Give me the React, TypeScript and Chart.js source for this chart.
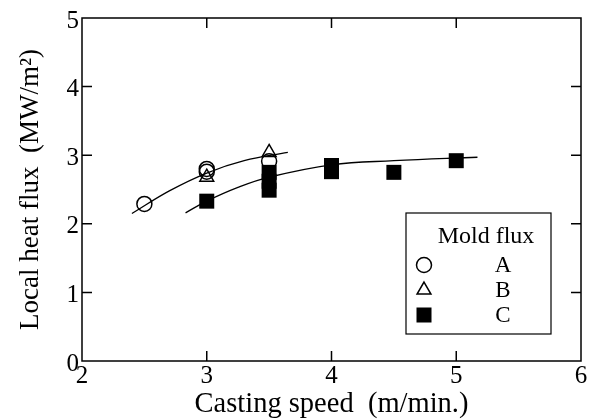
import React, { useEffect, useRef } from "react";
import { Chart, registerables } from "chart.js";
Chart.register(...registerables);

const FONT = "'Liberation Serif', 'Times New Roman', serif";

const xTicks = [2, 3, 4, 5, 6];
const yTicks = [0, 1, 2, 3, 4, 5];

const fluxA_x = [2.5, 3.0, 3.0, 3.5];
const fluxA_y = [2.29, 2.8, 2.76, 2.91];
const fluxB_x = [3.0, 3.5];
const fluxB_y = [2.68, 3.04];
const fluxC_x = [3.0, 3.5, 3.5, 3.5, 4.0, 4.0, 4.5, 5.0];
const fluxC_y = [2.33, 2.49, 2.62, 2.75, 2.76, 2.85, 2.75, 2.92];

const curveAB_x = [2.4, 2.7, 3.0, 3.3, 3.65];
const curveAB_y = [2.15, 2.48, 2.74, 2.92, 3.04];
const curveC_x = [2.83, 3.0, 3.25, 3.5, 4.0, 4.5, 5.17];
const curveC_y = [2.16, 2.33, 2.53, 2.68, 2.86, 2.92, 2.97];

const xTitle = "Casting speed  (m/min.)";
const yTitle = "Local heat flux  (MW/m\u00B2)";
const legendTitle = "Mold flux";
const legendLabels = ["A", "B", "C"];

const pts = (xs: number[], ys: number[]) => xs.map((x, i) => ({ x, y: ys[i] }));

function drawMarker(ctx: CanvasRenderingContext2D, kind: string, x: number, y: number) {
  ctx.save();
  ctx.strokeStyle = "#000";
  ctx.fillStyle = "#000";
  ctx.lineWidth = 1.5;
  ctx.beginPath();
  if (kind === "circle") {
    ctx.arc(x, y, 7.5, 0, Math.PI * 2);
    ctx.stroke();
  } else if (kind === "triangle") {
    const r = 8;
    ctx.moveTo(x, y - r);
    ctx.lineTo(x + r * 0.866, y + r * 0.5);
    ctx.lineTo(x - r * 0.866, y + r * 0.5);
    ctx.closePath();
    ctx.stroke();
  } else {
    ctx.fillRect(x - 7.5, y - 7.5, 15, 15);
  }
  ctx.restore();
}

const framePlugin = {
  id: "frame",
  afterDraw(chart: any) {
    const { ctx, chartArea: a, scales } = chart;
    const sx = scales.x;
    const sy = scales.y;
    ctx.save();
    ctx.strokeStyle = "#000";
    ctx.lineWidth = 1.5;
    ctx.strokeRect(a.left, a.top, a.right - a.left, a.bottom - a.top);
    const tl = 10;
    ctx.beginPath();
    xTicks.slice(1, -1).forEach((v) => {
      const px = sx.getPixelForValue(v);
      ctx.moveTo(px, a.bottom);
      ctx.lineTo(px, a.bottom - tl);
      ctx.moveTo(px, a.top);
      ctx.lineTo(px, a.top + tl);
    });
    yTicks.slice(1, -1).forEach((v) => {
      const py = sy.getPixelForValue(v);
      ctx.moveTo(a.left, py);
      ctx.lineTo(a.left + tl, py);
      ctx.moveTo(a.right, py);
      ctx.lineTo(a.right - tl, py);
    });
    ctx.stroke();

    // legend box
    const bx = a.right - 175;
    const by = a.top + 195;
    const bw = 145;
    const bh = 121;
    ctx.lineWidth = 1.2;
    ctx.fillStyle = "#fff";
    ctx.fillRect(bx, by, bw, bh);
    ctx.strokeRect(bx, by, bw, bh);
    ctx.fillStyle = "#000";
    ctx.textAlign = "center";
    ctx.textBaseline = "middle";
    ctx.font = `24px ${FONT}`;
    ctx.fillText(legendTitle, bx + 80, by + 24);
    const kinds = ["circle", "triangle", "rect"];
    ctx.font = `23px ${FONT}`;
    legendLabels.forEach((lab, i) => {
      const ry = by + 52 + i * 25;
      drawMarker(ctx, kinds[i], bx + 18, ry);
      ctx.fillStyle = "#000";
      ctx.fillText(lab, bx + 97, ry + 1);
    });
    ctx.restore();
  },
};

export default function App() {
  const ref = useRef<HTMLCanvasElement | null>(null);
  useEffect(() => {
    if (!ref.current) return;
    const tickFont = { family: FONT, size: 25 };
    const chart = new Chart(ref.current, {
      type: "scatter",
      data: {
        datasets: [
          {
            label: "A",
            data: pts(fluxA_x, fluxA_y),
            pointStyle: "circle",
            pointRadius: 7.5,
            pointBorderWidth: 1.5,
            pointBackgroundColor: "rgba(255,255,255,0)",
            pointBorderColor: "#000",
            order: 2,
          },
          {
            label: "B",
            data: pts(fluxB_x, fluxB_y),
            pointStyle: "triangle",
            pointRadius: 8,
            pointBorderWidth: 1.5,
            pointBackgroundColor: "rgba(255,255,255,0)",
            pointBorderColor: "#000",
            order: 1,
          },
          {
            label: "C",
            data: pts(fluxC_x, fluxC_y),
            pointStyle: "rect",
            pointRadius: 10.6,
            pointBorderWidth: 0,
            pointBackgroundColor: "#000",
            pointBorderColor: "#000",
            order: 0,
          },
          {
            label: "fit A/B",
            data: pts(curveAB_x, curveAB_y),
            showLine: true,
            pointRadius: 0,
            borderColor: "#000",
            borderWidth: 1.3,
            tension: 0.4,
            order: 3,
          },
          {
            label: "fit C",
            data: pts(curveC_x, curveC_y),
            showLine: true,
            pointRadius: 0,
            borderColor: "#000",
            borderWidth: 1.3,
            tension: 0.4,
            order: 3,
          },
        ],
      },
      options: {
        animation: false,
        responsive: true,
        maintainAspectRatio: false,
        layout: { padding: { top: 15, right: 15, left: 0, bottom: 0 } },
        plugins: { legend: { display: false }, tooltip: { enabled: false } },
        scales: {
          x: {
            type: "linear",
            min: 2,
            max: 6,
            afterBuildTicks: (s: any) => {
              s.ticks = xTicks.map((v) => ({ value: v }));
            },
            grid: { display: false, drawTicks: false },
            border: { display: false },
            ticks: { font: tickFont, color: "#000", padding: 0, maxRotation: 0, autoSkip: false },
            title: {
              display: true,
              text: xTitle,
              font: { family: FONT, size: 28.5 },
              color: "#000",
              padding: { top: 0, bottom: -3 },
            },
            afterFit: (s: any) => {
              s.height = 58;
            },
          },
          y: {
            type: "linear",
            min: 0,
            max: 5,
            afterBuildTicks: (s: any) => {
              s.ticks = yTicks.map((v) => ({ value: v }));
            },
            grid: { display: false, drawTicks: false },
            border: { display: false },
            ticks: { font: tickFont, color: "#000", padding: 3, labelOffset: 3, autoSkip: false },
            title: {
              display: true,
              text: yTitle,
              font: { family: FONT, size: 27 },
              color: "#000",
              padding: { top: 15, bottom: 0 },
            },
            afterFit: (s: any) => {
              s.width = 82;
            },
          },
        },
      },
      plugins: [framePlugin],
    });
    return () => chart.destroy();
  }, []);
  return (
    <div style={{ position: "absolute", left: 0, top: 0, width: 596, height: 419, background: "#fff" }}>
      <canvas ref={ref} />
    </div>
  );
}
